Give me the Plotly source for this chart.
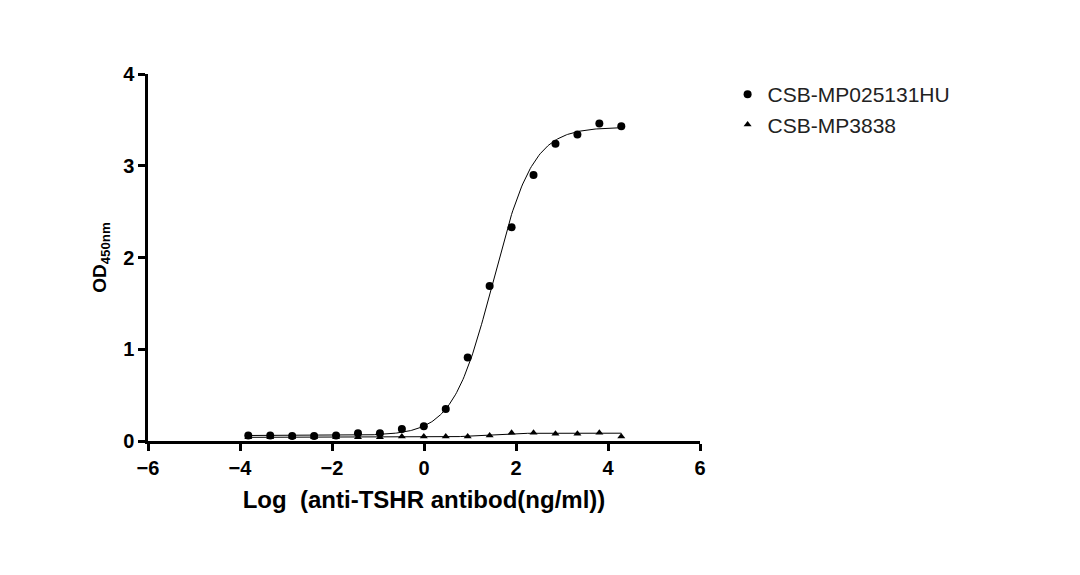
import numpy as np
import plotly.graph_objects as go

x_log = [-3.82 + 0.477 * i for i in range(18)]
y_mp025 = [0.06, 0.06, 0.055, 0.055, 0.06, 0.085, 0.085, 0.13, 0.16, 0.35, 0.91, 1.69, 2.33, 2.90, 3.24, 3.34, 3.46, 3.43]
y_mp3838 = [0.04, 0.04, 0.04, 0.04, 0.04, 0.04, 0.04, 0.05, 0.05, 0.05, 0.05, 0.06, 0.09, 0.09, 0.08, 0.08, 0.09, 0.05]

def fourpl(x, bottom, top, ec50, hill):
    return bottom + (top - bottom) / (1 + 10 ** ((ec50 - x) * hill))

xf = np.linspace(x_log[0], x_log[-1], 300)
fit1 = fourpl(xf, 0.06, 3.42, 1.5, 1.0)
fit2 = fourpl(xf, 0.04, 0.085, 1.2, 1.5)

fig = go.Figure()
fig.add_trace(go.Scatter(x=xf, y=fit1, mode="lines", line=dict(color="black", width=1), showlegend=False, hoverinfo="skip"))
fig.add_trace(go.Scatter(x=xf, y=fit2, mode="lines", line=dict(color="black", width=1), showlegend=False, hoverinfo="skip"))
fig.add_trace(go.Scatter(x=x_log, y=y_mp025, mode="markers", name="CSB-MP025131HU",
                         marker=dict(symbol="circle", size=8, color="black")))
fig.add_trace(go.Scatter(x=x_log, y=y_mp3838, mode="markers", name="CSB-MP3838",
                         marker=dict(symbol="triangle-up", size=7, color="black")))

axis_common = dict(showline=True, linewidth=2.5, linecolor="black", ticks="outside", ticklen=7,
                   tickwidth=2.5, tickcolor="black", showgrid=False, zeroline=False,
                   tickfont=dict(family="Arial, Liberation Sans", size=20, color="black", weight="bold"))
fig.update_layout(
    width=1080, height=575, paper_bgcolor="white", plot_bgcolor="white",
    margin=dict(l=140, r=388, t=66, b=142),
    font=dict(family="Arial, Liberation Sans", color="black"),
    xaxis=dict(range=[-6, 6], tickvals=[-6, -4, -2, 0, 2, 4, 6], **axis_common,
               title=dict(text="<b>Log  (anti-TSHR antibod(ng/ml))</b>", font=dict(size=24), standoff=14)),
    yaxis=dict(range=[0, 4], tickvals=[0, 1, 2, 3, 4], **axis_common,
               title=dict(text="<b>OD<sub>450nm</sub></b>", font=dict(size=19), standoff=12)),
    legend=dict(x=1.05, y=1.0, xanchor="left", yanchor="top", font=dict(size=21, color="#222"),
                bgcolor="rgba(0,0,0,0)", tracegroupgap=16),
)
fig.write_html("out.html")
